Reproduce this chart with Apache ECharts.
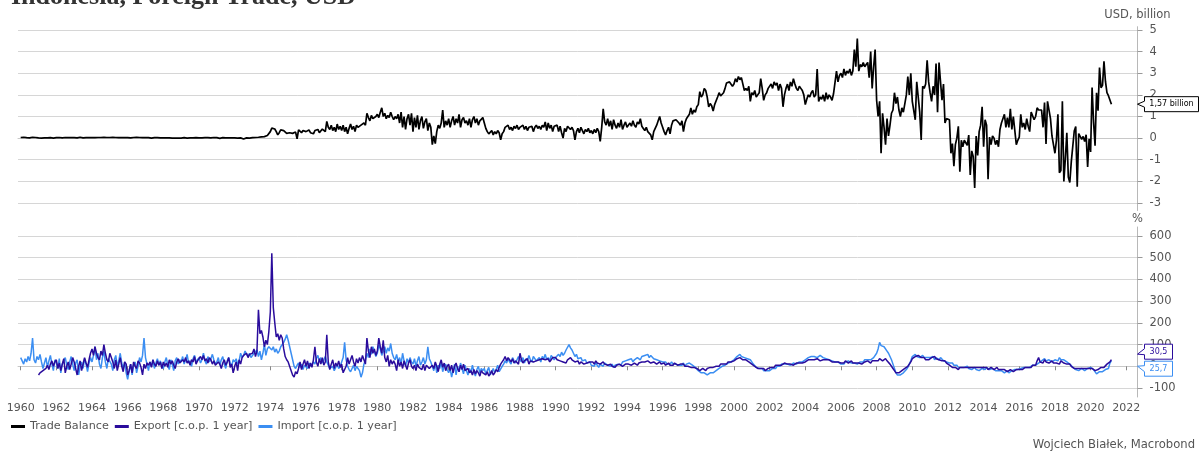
<!DOCTYPE html>
<html><head><meta charset="utf-8">
<script src="https://cdn.jsdelivr.net/npm/echarts@6/dist/echarts.min.js"></script>
<style>html,body{margin:0;padding:0;background:#fff}#c{width:1203px;height:453px}</style>
</head><body><div id="c"></div>
<script>
// ---------- DATA ----------
const tickYears = [1960,1962,1964,1966,1968,1970,1972,1974,1976,1978,1980,1982,1984,1986,1988,1990,1992,1994,1996,1998,2000,2002,2004,2006,2008,2010,2012,2014,2016,2018,2020,2022];
const balanceTicks = [-3,-2,-1,0,1,2,3,4,5];
const pctTicks = [-100,0,100,200,300,400,500,600];

// Trade balance, USD billion, monthly from Jan 1960
const balanceStart = 1960;
const tradeBalance = [
0.03,0.02,0.04,0.03,0.02,0.03,0.01,0.03,0.04,0.02,0.03,0.02,
0.01,0.02,0.00,-0.01,0.01,0.02,0.01,0.00,0.02,0.01,0.00,0.01,
0.02,0.01,0.03,0.02,0.01,0.02,0.03,0.01,0.02,0.03,0.02,0.01,
0.02,0.03,0.01,0.02,0.04,0.02,0.01,0.03,0.02,-0.01,0.03,0.00,
0.02,0.03,0.02,0.04,0.03,0.01,0.03,0.02,0.04,0.02,0.03,0.02,
0.03,0.02,0.04,0.02,0.03,0.01,0.02,0.03,0.02,0.04,0.02,0.03,
0.02,0.03,0.01,0.02,0.03,0.02,0.04,0.02,0.03,0.01,0.02,0.03,
0.02,0.01,0.02,0.01,0.00,0.01,0.02,0.01,0.02,0.01,0.01,0.00,
0.01,0.00,0.01,0.00,0.01,0.00,0.00,0.01,0.00,0.01,0.00,0.01,
0.00,0.01,0.02,0.01,0.00,0.02,0.01,0.02,0.01,0.00,0.02,0.01,
0.01,0.02,0.01,0.03,0.02,0.01,0.02,0.03,0.01,0.02,0.03,0.02,
0.02,0.01,-0.01,0.01,0.02,0.00,0.01,0.02,0.01,0.00,0.01,0.02,
0.01,0.02,0.00,-0.01,0.01,-0.02,-0.04,0.00,0.01,-0.01,0.00,0.01,
0.02,0.00,0.03,0.01,0.04,0.05,0.06,0.08,0.07,0.10,0.12,0.15,
0.30,0.46,0.38,0.42,0.30,0.15,0.25,0.38,0.30,0.35,0.28,0.22,
0.20,0.25,0.18,0.22,0.15,0.28,-0.03,0.38,0.30,0.25,0.35,0.28,
0.30,0.22,0.38,0.25,0.32,0.20,0.35,0.28,0.40,0.25,0.30,0.42,
0.35,0.30,0.77,0.50,0.40,0.60,0.35,0.50,0.30,0.65,0.40,0.55,
0.35,0.60,0.30,0.50,0.20,0.45,0.65,0.40,0.55,0.30,0.60,0.50,
0.45,0.60,0.55,0.70,0.60,1.15,0.95,0.80,1.05,0.90,0.85,1.00,
1.10,0.95,1.20,1.40,1.00,1.15,0.90,1.05,0.95,1.20,1.00,0.85,
1.00,0.90,1.10,0.70,1.20,0.50,1.00,0.40,0.90,1.10,0.60,1.15,
0.30,0.95,0.50,1.05,0.40,0.80,1.00,0.45,0.75,0.90,0.35,0.70,
0.50,-0.30,0.10,-0.25,0.30,0.60,0.45,0.70,1.30,0.50,0.80,0.60,
0.90,0.50,0.80,1.00,0.60,0.90,0.70,1.10,0.50,0.85,0.95,0.70,
0.80,0.60,0.90,0.50,0.85,1.00,0.70,0.90,0.60,0.80,0.75,0.95,
0.70,0.45,0.30,0.20,0.25,0.35,0.15,0.30,0.20,0.35,0.25,-0.08,
0.20,0.30,0.50,0.45,0.60,0.40,0.50,0.35,0.55,0.45,0.60,0.40,
0.50,0.45,0.60,0.40,0.55,0.35,0.50,0.45,0.55,0.30,0.50,0.60,
0.45,0.55,0.40,0.60,0.50,0.75,0.35,0.70,0.45,0.60,0.30,0.55,
0.50,0.60,0.30,0.55,0.25,0.00,0.45,0.30,0.55,0.60,0.40,0.50,
0.35,-0.08,0.30,0.45,0.25,0.50,0.35,0.20,0.40,0.30,0.45,0.25,
0.35,0.20,0.40,0.25,0.45,0.30,-0.15,0.50,1.35,0.75,0.60,0.90,
0.55,0.80,0.40,0.85,0.60,0.45,0.70,0.50,0.85,0.40,0.60,0.75,
0.50,0.45,0.70,0.55,0.80,0.60,0.50,0.75,0.65,0.90,0.55,0.45,
0.35,0.50,0.30,0.25,0.15,-0.08,0.30,0.45,0.60,0.80,1.00,0.70,
0.50,0.30,0.15,0.35,0.50,0.20,0.60,0.80,0.75,0.85,0.80,0.70,
0.60,0.80,0.30,0.70,0.90,0.85,1.10,1.40,1.10,1.30,1.20,1.45,
1.55,2.15,1.90,2.00,2.30,2.20,1.90,1.45,1.60,1.50,1.25,1.55,
1.60,1.90,2.10,1.95,2.00,2.10,2.30,2.55,2.50,2.60,2.55,2.40,
2.50,2.75,2.60,2.85,2.70,2.80,2.50,2.20,2.30,2.20,2.40,1.70,
2.10,2.00,2.20,1.90,2.00,2.10,2.75,2.30,1.75,2.00,2.10,2.30,
2.35,2.50,2.30,2.60,2.45,2.55,2.20,2.50,2.30,1.45,2.00,2.30,
2.50,2.20,2.60,2.40,2.75,2.50,2.30,2.20,2.40,2.30,2.20,2.00,
1.55,1.80,2.00,1.90,2.10,2.20,1.90,2.00,3.20,1.70,1.90,1.80,
2.00,1.70,2.10,1.80,2.00,1.90,1.75,2.05,2.10,3.10,2.60,2.90,
3.00,2.80,3.20,2.90,3.10,3.00,3.20,2.90,3.10,4.10,3.30,4.60,
3.10,3.40,3.30,3.50,3.30,3.40,3.50,2.80,4.00,2.30,3.30,4.10,
1.75,1.00,1.70,-0.70,1.15,0.50,-0.30,0.90,0.10,0.60,1.15,1.30,
2.10,1.60,1.90,1.30,1.00,1.40,1.20,1.60,2.00,2.85,2.00,3.00,
1.70,1.75,0.85,2.60,1.90,1.20,-0.08,2.40,2.30,2.50,3.60,2.60,
2.10,1.70,2.40,2.00,3.45,1.20,3.50,2.60,1.75,2.50,0.70,0.90,
0.90,0.85,-0.70,-0.25,-1.30,-0.30,0.00,0.55,-1.55,-0.10,-0.40,-0.10,
-0.17,-0.33,0.14,-1.70,-0.59,-0.85,-2.30,0.10,-0.80,0.30,0.60,1.45,
-0.40,0.85,0.60,-1.90,0.05,-0.30,0.10,0.00,-0.30,-0.10,-0.40,0.40,
0.70,0.75,1.10,0.50,0.95,0.50,1.35,0.40,1.00,1.00,-0.30,-0.10,
0.05,1.10,0.50,0.70,0.40,0.90,0.55,0.30,1.20,1.20,0.85,1.00,
1.40,1.30,1.25,1.30,0.50,1.65,-0.27,1.70,1.75,0.90,0.10,-0.30,
-0.70,-0.10,1.10,-1.60,-1.50,1.70,-2.00,-0.95,0.25,-1.80,-2.05,-1.10,
-1.16,0.33,0.54,-2.25,0.21,0.20,-0.06,0.08,-0.16,0.16,-1.33,-0.03,
-0.64,2.34,0.74,-0.35,2.10,1.27,3.26,2.33,2.44,3.55,2.62,2.10,
1.96,2.00,1.57
];

// Import, % change over 1 year, monthly from Jan 1960
const importStart = 1960;
const importYoY = [
40,25,10,35,20,45,25,60,130,30,15,45,
30,55,20,-10,15,40,-5,25,50,10,-20,30,
15,-10,35,-30,10,25,40,5,-15,20,45,10,
-20,15,30,-40,0,20,-10,35,10,-25,15,40,
20,50,90,30,60,10,-10,40,70,20,-10,35,
40,10,-20,30,50,0,25,60,15,-10,20,-30,
-60,-20,10,-40,5,20,-30,0,40,20,50,130,
40,10,-20,20,0,30,-10,15,35,5,25,0,
-10,20,40,5,-15,30,10,-20,25,40,10,30,
20,45,10,30,55,15,25,0,35,50,20,30,
40,15,30,60,25,10,45,20,35,55,30,10,
20,40,5,30,45,10,-10,25,40,15,0,30,
20,35,10,25,60,40,50,70,55,45,60,40,
40,60,55,75,45,70,30,60,100,50,80,90,
85,75,90,65,80,60,70,90,85,110,125,145,
120,90,60,30,0,-10,5,15,-5,10,-15,5,
10,-10,15,0,-5,20,10,35,50,25,40,15,
30,45,20,5,-10,-15,0,-20,-5,10,-10,0,
20,40,110,30,0,-15,-25,-10,5,-20,0,-10,
-20,-50,-30,10,30,60,40,80,55,90,70,45,
60,100,80,50,70,90,60,85,70,105,60,40,
30,55,20,40,10,60,25,0,35,15,40,20,
10,35,0,25,45,5,20,40,10,30,90,35,
20,0,-20,15,-30,5,-10,20,-25,0,10,-15,
-30,-10,-50,-20,10,-40,0,-25,15,-10,-35,5,
-20,-40,-10,-30,5,-25,-45,-15,0,-30,-10,-20,
-10,-35,-20,-5,-40,-25,-10,-30,-15,5,-25,-20,
0,10,25,15,35,20,10,40,25,15,30,45,
30,20,40,15,35,25,50,30,20,45,35,25,
30,40,20,45,35,55,30,40,25,50,45,30,
40,35,55,45,65,50,60,75,70,100,85,75,
60,45,55,35,30,40,25,20,30,15,10,20,
5,10,0,15,5,-5,10,5,0,15,10,5,
5,0,10,-5,5,0,10,15,5,20,15,25,
20,30,25,35,20,30,25,40,35,30,45,40,
50,45,55,40,50,45,35,40,30,35,25,30,
20,15,20,10,15,10,20,10,5,10,15,5,
10,5,15,0,10,5,15,10,5,0,-5,-10,
-20,-25,-30,-35,-30,-35,-40,-35,-30,-35,-30,-25,
-20,-15,-10,-5,0,-5,5,10,15,10,20,25,
30,35,45,50,55,45,50,40,45,35,40,30,
20,10,5,-5,0,-10,-15,-10,-20,-15,-20,-25,
-20,-15,-10,-5,-10,0,5,0,10,5,10,15,
10,15,5,10,15,20,10,15,20,15,20,25,
30,35,40,35,45,50,45,50,40,45,50,45,
40,45,35,40,30,35,25,30,20,25,20,15,
10,15,10,20,15,25,20,15,10,15,20,10,
15,20,25,20,30,25,30,35,30,35,40,45,
60,80,110,95,100,90,85,70,60,45,30,10,
-10,-30,-40,-45,-40,-35,-30,-25,-15,-5,10,25,
45,50,55,45,50,40,45,50,40,35,40,35,
40,35,45,30,40,35,30,40,35,25,30,20,
20,15,10,15,5,0,5,-5,0,-5,-10,-5,
-5,0,-10,-5,-15,-10,-5,-15,-10,-20,-15,-10,
-10,-15,-5,-10,-15,-20,-10,-15,-20,-15,-20,-25,
-20,-25,-30,-25,-20,-30,-25,-20,-25,-15,-20,-15,
-15,-10,-15,-5,-10,-5,0,-5,0,5,0,5,
10,15,20,25,20,35,25,20,30,25,20,25,
30,35,25,40,30,35,30,25,20,15,10,5,
-5,-10,-15,-10,-20,-15,-10,-15,-20,-15,-10,-15,
-5,-10,-15,-20,-35,-30,-25,-20,-25,-20,-15,-20,
-10,15,25.7
];

// Export, % change over 1 year, monthly from Jan 1961
const exportStart = 1961;
const exportYoY = [
-40,-30,-35,-20,-25,-10,5,-15,10,25,0,20,
30,-10,15,-20,10,35,-30,0,20,-15,10,40,
20,-10,-40,0,25,-20,10,40,15,-5,30,60,
80,50,90,60,40,30,70,50,100,60,30,20,
60,40,20,-10,30,-20,10,40,0,-25,20,10,
-40,-20,10,-30,20,0,-10,25,15,-5,-40,10,
-10,15,5,20,-5,30,10,0,25,5,20,-10,
20,0,15,-5,30,10,25,5,-10,20,35,15,
10,30,20,40,15,25,5,30,20,45,10,25,
20,45,30,50,25,35,15,40,30,10,25,5,
0,20,10,-10,15,30,5,20,40,-5,10,-30,
0,20,-20,30,10,40,50,45,60,40,55,50,
60,80,45,70,260,150,165,135,90,120,100,160,
250,520,270,200,135,150,120,145,130,80,45,30,
20,15,-20,-40,-50,-25,-35,-10,20,-15,10,30,
0,25,-10,15,-5,30,90,20,0,35,10,40,
5,20,145,20,-15,10,30,-10,15,0,25,-5,
10,-30,-30,0,40,10,30,50,20,0,35,15,
40,20,50,30,10,130,70,40,90,60,80,50,
70,130,90,60,120,40,20,50,0,30,10,25,
10,-20,30,0,20,-10,25,5,-15,15,30,0,
-10,5,-20,10,-5,0,-15,10,-20,5,0,-10,
-15,5,-10,20,0,-25,10,30,-5,15,-20,0,
10,-20,5,-30,0,15,-10,-25,5,-15,10,-20,
-25,-10,-30,-20,-40,-15,-35,-20,-30,-45,-20,-30,
-30,-40,-25,-45,-35,-20,-40,-30,-15,-25,-5,10,
20,30,45,25,40,30,20,35,15,25,20,10,
60,30,15,25,20,35,10,25,30,20,15,25,
20,30,25,35,40,30,25,35,20,30,40,35,
40,30,35,25,30,20,25,15,30,35,40,30,
25,20,15,25,10,20,15,10,5,15,10,20,
15,20,10,25,15,20,10,15,20,10,15,5,
5,10,0,5,-5,5,0,10,5,0,5,10,
5,10,15,5,10,15,10,5,15,10,20,15,
20,15,25,20,15,10,20,15,10,15,20,10,
10,15,5,10,15,5,10,5,15,10,5,10,
10,5,10,0,5,0,5,-5,0,-5,-10,-10,
-15,-20,-15,-10,-15,-20,-10,-15,-5,-10,-5,0,
0,5,0,10,5,10,15,10,20,15,20,25,
25,30,35,30,40,35,30,35,30,25,20,15,
10,5,0,-5,-10,-5,-10,-15,-10,-20,-15,-10,
-10,-5,0,-5,5,0,5,10,5,10,15,10,
10,5,10,15,5,10,15,10,15,20,15,20,
20,25,30,25,30,35,30,25,35,30,25,30,
30,35,30,25,30,25,20,25,20,15,20,15,
15,20,15,25,20,15,20,25,15,20,15,10,
15,20,10,15,20,15,25,20,15,25,30,25,
30,25,35,30,25,30,35,25,20,10,0,-10,
-20,-30,-35,-30,-25,-20,-15,-10,-5,0,10,20,
35,40,45,40,50,45,40,35,40,30,35,30,
35,40,35,45,35,40,30,35,25,20,25,15,
10,5,0,-5,-10,-5,-10,-15,-5,-10,-5,-10,
-5,-10,-5,0,-5,-10,-5,-10,-5,0,-5,-10,
-5,-10,-5,-15,-10,-5,-10,-15,-10,-5,-15,-10,
-15,-20,-15,-20,-25,-20,-15,-20,-25,-20,-15,-20,
-15,-10,-15,-10,-5,-10,-5,0,-5,5,0,5,
25,40,20,25,15,30,20,25,15,20,25,15,
10,15,20,10,25,20,15,20,10,5,10,0,
-5,-10,-15,-10,-5,-10,-15,-10,-15,-10,-5,-10,
-5,-10,-15,-20,-25,-15,-10,-5,-10,-5,0,10,
15,20,30.5
];

// ---------- CHART ----------
const W = 1203, H = 453;
const gridLeft = 18, gridRight = 65.5;
const C_BAL = '#000000', C_EXP = '#2a0c9c', C_IMP = '#3b8ef2';
const FONT = 'DejaVu Sans';

function pairs(start, arr, perYear) { return arr.map((v, i) => [start + i / perYear, v]); }

const chart = echarts.init(document.getElementById('c'), null, {renderer: 'canvas'});
const xCommon = {type: 'value', min: 1959.85, max: 2022.63};

const option = {
  animation: false,
  backgroundColor: '#fff',
  title: {text: 'Indonesia, Foreign Trade, USD', left: 6, top: -21,
    textStyle: {fontFamily: 'Liberation Serif', fontWeight: 'bold', fontSize: 26, color: '#333'}},
  legend: {left: 11, top: 421, itemWidth: 14, itemHeight: 3, itemGap: 6, padding: 0, icon: 'rect',
    textStyle: {fontFamily: FONT, fontSize: 11.2, color: '#555'},
    data: ['Trade Balance', 'Export [c.o.p. 1 year]', 'Import [c.o.p. 1 year]']},
  graphic: [{type: 'text', right: 8, top: 439,
    style: {text: 'Wojciech Białek, Macrobond', font: '11.6px "DejaVu Sans"', fill: '#555'}}],
  grid: [
    {left: gridLeft, right: gridRight, top: 26.7, height: 210.5 - 26.7},
    {left: gridLeft, right: gridRight, top: 227, height: 397 - 227}
  ],
  xAxis: [
    Object.assign({gridIndex: 0, axisLine: {show: true, lineStyle: {color: '#c8c8c8'}},
      axisTick: {show: false}, axisLabel: {show: false}, splitLine: {show: false}}, xCommon),
    Object.assign({gridIndex: 1, axisLine: {show: true, lineStyle: {color: '#c8c8c8'}},
      axisTick: {show: true, length: 4, lineStyle: {color: '#888'}, customValues: tickYears},
      axisLabel: {show: true, customValues: tickYears, formatter: v => String(v), margin: 6,
        fontFamily: FONT, fontSize: 11, color: '#555'},
      splitLine: {show: false}}, xCommon)
  ],
  yAxis: [
    {gridIndex: 0, type: 'value', position: 'right', min: -3.347, max: 5.153,
      name: 'USD, billion', nameLocation: 'end', nameGap: 6,
      nameTextStyle: {fontFamily: FONT, fontSize: 11.5, color: '#555'},
      axisLine: {show: true, lineStyle: {color: '#b8b8b8'}},
      axisTick: {show: true, length: 5, lineStyle: {color: '#999'}, customValues: balanceTicks},
      axisLabel: {customValues: balanceTicks, margin: 12, fontFamily: FONT, fontSize: 11.5, color: '#555'},
      splitLine: {show: true, lineStyle: {color: '#d6d6d6', width: 1}}},
    {gridIndex: 1, type: 'value', position: 'right', min: -141.4, max: 641.4,
      name: '%', nameLocation: 'end', nameGap: 2,
      nameTextStyle: {fontFamily: FONT, fontSize: 11.5, color: '#555'},
      axisLine: {show: true, lineStyle: {color: '#b8b8b8'}},
      axisTick: {show: true, length: 5, lineStyle: {color: '#999'}, customValues: pctTicks},
      axisLabel: {customValues: pctTicks, margin: 12, fontFamily: FONT, fontSize: 11.5, color: '#555'},
      splitLine: {show: true, lineStyle: {color: '#d6d6d6', width: 1}}}
  ],
  series: [
    {name: 'Trade Balance', type: 'line', xAxisIndex: 0, yAxisIndex: 0, showSymbol: false, z: 5,
      color: C_BAL, lineStyle: {width: 1.7, color: C_BAL}, data: pairs(balanceStart, tradeBalance, 12)},
    {name: 'Export [c.o.p. 1 year]', type: 'line', xAxisIndex: 1, yAxisIndex: 1, showSymbol: false, z: 4,
      color: C_EXP, lineStyle: {width: 1.5, color: C_EXP}, data: pairs(exportStart, exportYoY, 12)},
    {name: 'Import [c.o.p. 1 year]', type: 'line', xAxisIndex: 1, yAxisIndex: 1, showSymbol: false, z: 3,
      color: C_IMP, lineStyle: {width: 1.5, color: C_IMP}, data: pairs(importStart, importYoY, 12)}
  ]
};
chart.setOption(option);

// End-value callouts on the right axis
function fmt(v) { return String(v).replace('.', ','); }
function callout(yTip, yBox, text, color, boxW) {
  const ax = W - gridRight, x0 = ax + 7, h = 15;
  const pts = [[ax, yTip], [x0, yBox - 3], [x0, yBox - h / 2], [x0 + boxW, yBox - h / 2],
    [x0 + boxW, yBox + h / 2], [x0, yBox + h / 2], [x0, yBox + 3]];
  return [
    {type: 'polygon', shape: {points: pts}, style: {fill: '#fff', stroke: color, lineWidth: 1}, z: 100},
    {type: 'text', x: x0 + boxW / 2, y: yBox, z: 101,
      style: {text: text, font: '8px "DejaVu Sans"', fill: color, align: 'center', verticalAlign: 'middle'}}
  ];
}
const lastBal = tradeBalance[tradeBalance.length - 1];
const lastExp = exportYoY[exportYoY.length - 1];
const lastImp = importYoY[importYoY.length - 1];
const yBal = chart.convertToPixel({yAxisIndex: 0}, lastBal);
const yExp = chart.convertToPixel({yAxisIndex: 1}, lastExp);
const yImp = chart.convertToPixel({yAxisIndex: 1}, lastImp);
const mid = (yExp + yImp) / 2;
const extra = [].concat(
  callout(yBal, yBal, fmt(lastBal) + ' billion', '#000', 54),
  callout(mid - 6, mid - 8.5, fmt(lastExp), C_EXP, 28),
  callout(mid + 6, mid + 8.5, fmt(lastImp), C_IMP, 28)
);
chart.setOption({graphic: option.graphic.concat(extra)});
</script></body></html>
